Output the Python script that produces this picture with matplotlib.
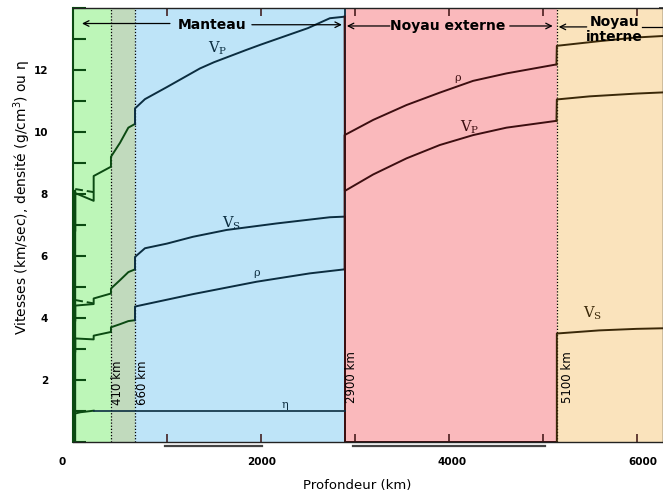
import matplotlib.pyplot as plt
import matplotlib.transforms as mtransforms

# Profondeurs (km) et valeurs (modèle type PREM)
# Vp (km/s)
vp_um_d = [0, 15, 15, 24, 24, 220, 220, 404, 404, 500, 589, 660]
vp_um_v = [5.8, 5.8, 6.8, 6.8, 8.03, 7.78, 8.58, 8.88, 9.20, 9.65, 10.14, 10.26]
vp_um_dash_d = [24, 220]
vp_um_dash_v = [8.16, 8.06]
vp_lm_d = [660, 660, 766, 1000, 1351, 1500, 1847, 2000, 2500, 2734, 2891]
vp_lm_v = [10.26, 10.76, 11.06, 11.45, 12.05, 12.25, 12.65, 12.82, 13.35, 13.67, 13.72]
vp_oc_d = [2891, 2894, 3195, 3550, 3904, 4259, 4614, 5146]
vp_oc_v = [13.72, 8.10, 8.63, 9.15, 9.58, 9.90, 10.14, 10.36]
vp_ic_d = [5146, 5150, 5500, 6000, 6300]
vp_ic_v = [10.36, 11.05, 11.15, 11.24, 11.28]

# Vs (km/s)
vs_um_d = [0, 15, 15, 24, 24, 220, 220, 404, 404, 500, 589, 660]
vs_um_v = [3.2, 3.2, 3.9, 3.9, 4.40, 4.45, 4.63, 4.79, 4.95, 5.22, 5.48, 5.57]
vs_um_dash_d = [24, 220]
vs_um_dash_v = [4.58, 4.47]
vs_lm_d = [660, 660, 766, 1000, 1277, 1635, 2167, 2734, 2891]
vs_lm_v = [5.57, 5.97, 6.25, 6.40, 6.62, 6.84, 7.05, 7.25, 7.27]
vs_oc_d = [2891, 2891, 5150]
vs_oc_v = [7.27, 0.0, 0.0]
vs_ic_d = [5150, 5150, 5600, 6000, 6300]
vs_ic_v = [0.0, 3.50, 3.60, 3.65, 3.67]

# densité (g/cm3)
rho_um_d = [0, 15, 15, 24, 24, 220, 220, 404, 404, 500, 589, 660]
rho_um_v = [2.6, 2.6, 2.9, 2.9, 3.34, 3.31, 3.43, 3.55, 3.70, 3.80, 3.90, 3.93]
rho_lm_d = [660, 660, 1277, 1954, 2521, 2891]
rho_lm_v = [3.93, 4.37, 4.77, 5.17, 5.44, 5.57]
rho_oc_d = [2891, 2891, 3195, 3550, 3904, 4259, 4614, 5146]
rho_oc_v = [5.57, 9.90, 10.39, 10.87, 11.27, 11.65, 11.89, 12.18]
rho_ic_d = [5146, 5150, 5600, 6000, 6300]
rho_ic_v = [12.18, 12.78, 12.93, 13.05, 13.10]

# eta
eta_d = [24, 80, 220, 1000, 2000, 2891]
eta_v = [0.92, 0.96, 1.01, 1.01, 1.01, 1.01]

x_max = 6280

c_vert = '#0b4a12'
c_bleu = '#0b2d40'
c_rouge = '#3c0e10'
c_brun = '#3a2808'

fig = plt.figure(figsize=(6.63, 4.97), dpi=100)
ax = fig.add_axes([73 / 663, 55 / 497, 590 / 663, 434 / 497])

ax.axvspan(0, 404, color='#bdf6b8', lw=0)
ax.axvspan(404, 660, color='#c1dabd', lw=0)
ax.axvspan(660, 2891, color='#bee4f8', lw=0)
ax.axvspan(2891, 5150, color='#fab9bc', lw=0)
ax.axvspan(5150, x_max, color='#fae3bc', lw=0)

# limites
ax.axvline(404, color='k', ls=(0, (1, 1.5)), lw=0.9)
ax.axvline(660, color='k', ls=(0, (1, 1.5)), lw=0.9)
ax.axvline(2891, color=c_bleu, lw=1.3)
ax.axvline(5150, color='k', ls=(0, (1, 1.5)), lw=0.9)

# courbes
for d, v, c in [(vp_um_d, vp_um_v, c_vert), (vs_um_d, vs_um_v, c_vert), (rho_um_d, rho_um_v, c_vert),
                (vp_lm_d, vp_lm_v, c_bleu), (vs_lm_d, vs_lm_v, c_bleu), (rho_lm_d, rho_lm_v, c_bleu),
                (vp_oc_d, vp_oc_v, c_rouge), (vs_oc_d, vs_oc_v, c_rouge), (rho_oc_d, rho_oc_v, c_rouge),
                (vp_ic_d, vp_ic_v, c_brun), (vs_ic_d, vs_ic_v, c_brun), (rho_ic_d, rho_ic_v, c_brun)]:
    ax.plot(d, v, color=c, lw=1.4)
ax.plot(vp_um_dash_d, vp_um_dash_v, color=c_vert, lw=1.4, ls=(0, (4, 2)))
ax.plot(vs_um_dash_d, vs_um_dash_v, color=c_vert, lw=1.4, ls=(0, (4, 2)))
ax.plot(eta_d[:3], eta_v[:3], color=c_vert, lw=1.4)
ax.plot(eta_d[2:], eta_v[2:], color=c_bleu, lw=1.2)
# croûte écrasée sur le bord gauche
ax.plot([8, 8], [0, 8.1], color=c_vert, lw=2.4)

# étiquettes des courbes
lab = dict(fontsize=10.5, family='DejaVu Serif', ha='center', va='center')
ax.text(1543, 12.7, r'V$_\mathregular{P}$', color=c_bleu, **lab)
ax.text(1691, 7.06, r'V$_\mathregular{S}$', color=c_bleu, **lab)
ax.text(1957, 5.45, 'ρ', color=c_bleu, fontsize=8, family='DejaVu Serif', ha='center', va='center')
ax.text(2255, 1.2, 'η', color=c_bleu, fontsize=8, family='DejaVu Serif', ha='center', va='center')
ax.text(4096, 11.74, 'ρ', color=c_rouge, fontsize=8, family='DejaVu Serif', ha='center', va='center')
ax.text(4223, 10.16, r'V$_\mathregular{P}$', color=c_rouge, **lab)
ax.text(5532, 4.16, r'V$_\mathregular{S}$', color=c_brun, **lab)

# noms des limites
bk = dict(fontsize=8.5, rotation=90, ha='center', va='bottom')
ax.text(470, 1.2, '410 km', **bk)
ax.text(745, 1.2, '660 km', **bk)
ax.text(2968, 1.26, '2900 km', **bk)
ax.text(5266, 1.26, '5100 km', **bk)

# enveloppes
fl = dict(arrowstyle='->', color='k', lw=0.9, shrinkA=0, shrinkB=0)
ax.annotate('', xy=(96, 13.5), xytext=(1032, 13.5), arrowprops=fl)
ax.annotate('', xy=(2862, 13.46), xytext=(1904, 13.46), arrowprops=fl)
ax.text(1479, 13.45, 'Manteau', fontsize=10, fontweight='bold', ha='center', va='center')
ax.annotate('', xy=(2915, 13.42), xytext=(3372, 13.42), arrowprops=fl)
ax.annotate('', xy=(5106, 13.42), xytext=(4649, 13.42), arrowprops=fl)
ax.text(3989, 13.42, 'Noyau externe', fontsize=10, fontweight='bold', ha='center', va='center')
ax.annotate('', xy=(5170, 13.39), xytext=(5468, 13.39), arrowprops=fl)
ax.plot([6053, x_max], [13.39, 13.39], color='k', lw=0.9)
ax.text(5766, 13.3, 'Noyau\ninterne', fontsize=10, fontweight='bold', ha='center', va='center',
        linespacing=1.05)

# traits du scan sous l'axe
tr = mtransforms.blended_transform_factory(ax.transData, ax.transAxes)
ax.plot([980, 2010], [-0.01, -0.01], color='#444444', lw=1.6, transform=tr, clip_on=False)
ax.plot([2980, 5020], [-0.01, -0.01], color='#444444', lw=1.6, transform=tr, clip_on=False)

ax.set_xlim(0, x_max)
ax.set_ylim(0, 14)
ax.set_xticks(range(0, 7000, 1000))
ax.set_xticklabels(['0', '', '2000', '', '4000', '', '6000'], fontsize=7.5, fontweight='bold')
ax.set_yticks(range(0, 15))
ax.set_yticklabels(['', '', '2', '', '4', '', '6', '', '8', '', '10', '', '12', '', ''],
                   fontsize=7.5, fontweight='bold')
ax.tick_params(axis='x', direction='in', length=6, width=1.1, color='#3a1010', pad=11,
               top=True)
ax.tick_params(axis='y', direction='in', length=9, width=1.5, color=c_vert, pad=18)
for s in ['top', 'bottom', 'right']:
    ax.spines[s].set_color('#222222')
    ax.spines[s].set_linewidth(1.0)
ax.spines['left'].set_color(c_vert)
ax.spines['left'].set_linewidth(1.5)

# petites graduations à droite
ax_d = ax.secondary_yaxis('right')
ax_d.set_yticks(range(0, 15))
ax_d.tick_params(direction='in', length=3, width=1.2, color='#333333', labelright=False)
ax_d.spines['right'].set_visible(False)

decal = [-11, 0, 1, 0, 3, 0, 6]
for lbl, dx in zip(ax.get_xticklabels(), decal):
    lbl.set_transform(lbl.get_transform() + mtransforms.ScaledTranslation(dx / 100, 0, fig.dpi_scale_trans))

fig.text(357 / 663, 1 - 485 / 497, 'Profondeur (km)', fontsize=9.5, ha='center', va='center')
fig.text(22 / 663, 1 - 198 / 497, 'Vitesses (km/sec), densité (g/cm$^3$) ou η', fontsize=10,
         rotation=90, ha='center', va='center')

fig.savefig('out.png', dpi=100)
